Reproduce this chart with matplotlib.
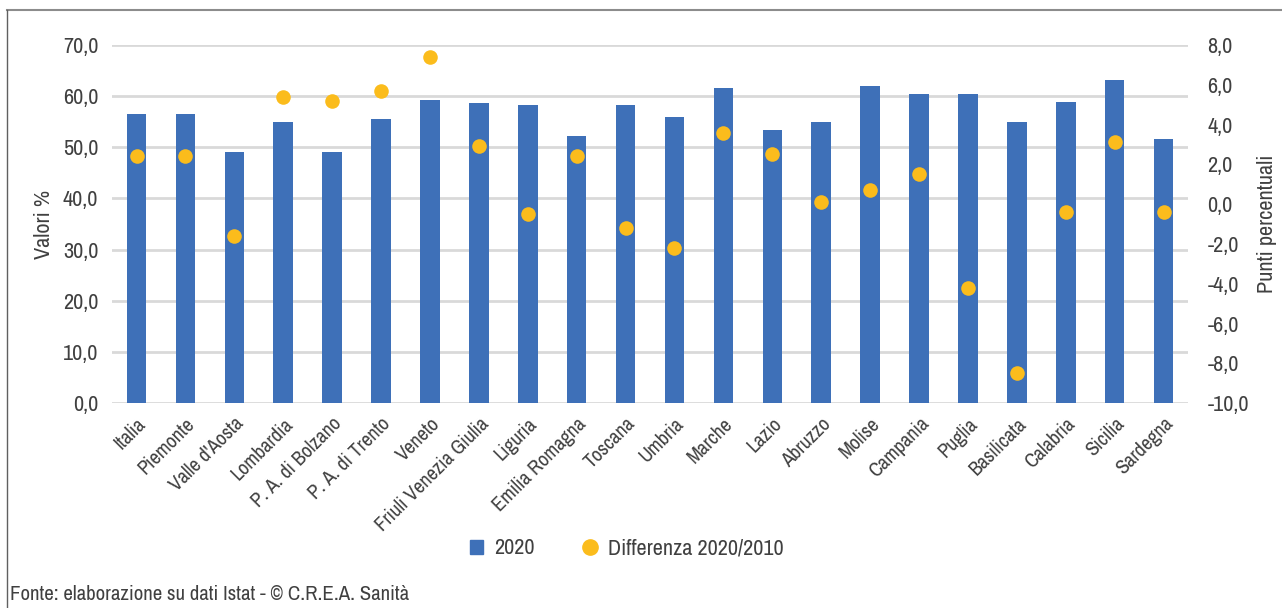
import matplotlib
matplotlib.use("Agg")
import matplotlib.pyplot as plt
from matplotlib import font_manager
from matplotlib.ticker import FuncFormatter, MultipleLocator
from matplotlib.lines import Line2D
from matplotlib.patches import Patch

regioni = ["Italia", "Piemonte", "Valle d'Aosta", "Lombardia", "P. A. di Bolzano",
           "P. A. di Trento", "Veneto", "Friuli Venezia Giulia", "Liguria",
           "Emilia Romagna", "Toscana", "Umbria", "Marche", "Lazio", "Abruzzo",
           "Molise", "Campania", "Puglia", "Basilicata", "Calabria", "Sicilia",
           "Sardegna"]
valori_2020 = [56.6, 56.6, 49.0, 54.9, 49.0, 55.5, 59.3, 58.7, 58.2, 52.3, 58.3,
               56.0, 61.5, 53.4, 55.0, 62.0, 60.4, 60.4, 54.9, 58.8, 63.1, 51.7]
diff_2020_2010 = [2.4, 2.4, -1.6, 5.4, 5.2, 5.7, 7.4, 2.9, -0.5, 2.4, -1.2,
                  -2.2, 3.6, 2.5, 0.1, 0.7, 1.5, -4.2, -8.5, -0.4, 3.1, -0.4]

BLU = "#3E70B8"
GIALLO = "#FBBC1C"
GRIGIO_TESTO = "#404040"
GRIGIO_GRIGLIA = "#D9D9D9"


def _rank(f):
    if "Narrow" in f.name:
        return 0
    if "Condensed" in f.name:
        return 1
    return 2


# use a condensed face if one is installed, otherwise a regular sans
condensed = sorted(
    (f for f in font_manager.fontManager.ttflist
     if f.stretch in ("condensed", "semi-condensed", "extra-condensed", 300, 400, 450)
     or "Narrow" in f.name or "Condensed" in f.name),
    key=lambda f: (_rank(f), f.name, str(f.stretch), f.weight != 400))
if condensed:
    plt.rcParams["font.family"] = [condensed[0].name, "DejaVu Sans"]
    plt.rcParams["font.stretch"] = condensed[0].stretch
    FS = 16
else:
    plt.rcParams["font.family"] = ["Liberation Sans", "DejaVu Sans"]
    FS = 13.5

fig = plt.figure(figsize=(12.82, 6.08), dpi=100)
ax = fig.add_axes([0.0874, 0.337, 0.8393, 0.589])
ax2 = ax.twinx()

x = list(range(len(regioni)))
ax.bar(x, valori_2020, width=0.4, color=BLU, zorder=2)
ax2.scatter(x, diff_2020_2010, s=110, color=GIALLO, zorder=3, linewidths=0)

ax.set_xlim(-0.5, len(regioni) - 0.5)
ax.set_ylim(0, 70)
ax2.set_ylim(-10, 8)
ax.yaxis.set_major_locator(MultipleLocator(10))
ax2.yaxis.set_major_locator(MultipleLocator(2))

virgola = FuncFormatter(lambda v, p: f"{v:.1f}".replace(".", ","))
ax.yaxis.set_major_formatter(virgola)
ax2.yaxis.set_major_formatter(virgola)

ax.grid(axis="y", color=GRIGIO_GRIGLIA, linewidth=2, zorder=0)
ax.set_axisbelow(True)
ax.set_zorder(ax2.get_zorder() - 1)
ax2.patch.set_visible(False)
ax.patch.set_visible(False)

for a in (ax, ax2):
    for s in a.spines.values():
        s.set_visible(False)
    a.tick_params(length=0, colors=GRIGIO_TESTO, labelsize=FS)

ax.tick_params(axis="y", pad=10)
ax2.tick_params(axis="y", pad=14)
ax.set_xticks(x)
ax.set_xticklabels(regioni, rotation=45, ha="right", rotation_mode="anchor",
                   fontsize=FS - 1.5)
ax.tick_params(axis="x", pad=8)

ax.set_ylabel("Valori %", fontsize=FS, color=GRIGIO_TESTO, labelpad=6)
ax2.set_ylabel("Punti percentuali", fontsize=FS, color=GRIGIO_TESTO, labelpad=6)

handles = [Patch(facecolor=BLU, edgecolor=BLU),
           Line2D([], [], marker="o", linestyle="none", markersize=11,
                  markerfacecolor=GIALLO, markeredgecolor=GIALLO)]
fig.legend(handles, ["2020", "Differenza 2020/2010"], loc="center",
           bbox_to_anchor=(0.489, 0.098), ncol=2, frameon=False,
           fontsize=FS, labelcolor=GRIGIO_TESTO, handlelength=0.6,
           handleheight=0.6, handletextpad=0.5, columnspacing=2.2)

# cornice: linea superiore e sinistra
fig.add_artist(Line2D([7 / 1282, 1.0], [1 - 10 / 608, 1 - 10 / 608],
                      color="#8C8C8C", linewidth=1.5, transform=fig.transFigure))
fig.add_artist(Line2D([7 / 1282, 7 / 1282], [0.0, 1 - 10 / 608],
                      color="#606060", linewidth=1.0, transform=fig.transFigure))

fig.text(10 / 1282, 1 - 595 / 608, "Fonte: elaborazione su dati Istat - © C.R.E.A. Sanità",
         fontsize=FS - 1, color=GRIGIO_TESTO, va="center", ha="left")

fig.savefig("out.png", dpi=100, facecolor="white")
